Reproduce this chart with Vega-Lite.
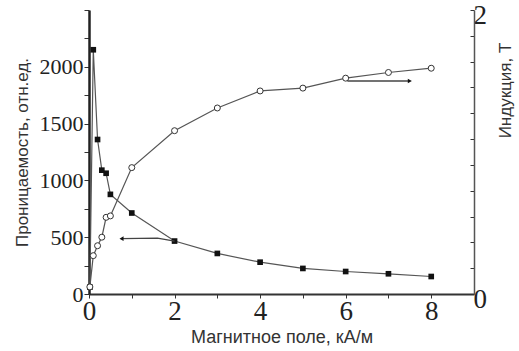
{
  "$schema": "https://vega.github.io/schema/vega-lite/v6.json",
  "width": 385,
  "height": 284,
  "autosize": "none",
  "padding": {"left": 89, "right": 45, "top": 10, "bottom": 57},
  "background": "white",
  "config": {
    "view": {"stroke": null},
    "axis": {"grid": false, "labelFont": "Liberation Serif", "titleFont": "Liberation Sans", "titleFontWeight": "normal", "labelColor": "#222", "titleColor": "#333", "tickColor": "#333", "labelOverlap": false, "labelBound": false, "labelFlush": false}
  },
  "datasets": {
    "perm": [
      {"H": 0.02, "mu": 60},
      {"H": 0.1, "mu": 2150},
      {"H": 0.2, "mu": 1360},
      {"H": 0.3, "mu": 1090},
      {"H": 0.4, "mu": 1063},
      {"H": 0.5, "mu": 877},
      {"H": 1, "mu": 713},
      {"H": 2, "mu": 466},
      {"H": 3, "mu": 357},
      {"H": 4, "mu": 280},
      {"H": 5, "mu": 225},
      {"H": 6, "mu": 198},
      {"H": 7, "mu": 178},
      {"H": 8, "mu": 154}
    ],
    "ind": [
      {"H": 0.02, "B": 0.05},
      {"H": 0.1, "B": 0.27},
      {"H": 0.2, "B": 0.34},
      {"H": 0.3, "B": 0.4},
      {"H": 0.4, "B": 0.54},
      {"H": 0.5, "B": 0.55},
      {"H": 1, "B": 0.89},
      {"H": 2, "B": 1.15},
      {"H": 3, "B": 1.31},
      {"H": 4, "B": 1.43},
      {"H": 5, "B": 1.45},
      {"H": 6, "B": 1.52},
      {"H": 7, "B": 1.56},
      {"H": 8, "B": 1.59}
    ],
    "arrow1": [
      {"H": 2.0, "mu": 466, "head": false},
      {"H": 1.6, "mu": 492, "head": false},
      {"H": 0.76, "mu": 487, "head": true}
    ],
    "arrow2": [
      {"H": 6.04, "B": 1.5, "head": false},
      {"H": 7.5, "B": 1.5, "head": true}
    ]
  },
  "layer": [
    {
      "layer": [
        {
          "data": {"name": "perm"},
          "mark": {"type": "line", "color": "#555", "strokeWidth": 1.2},
          "encoding": {
            "x": {"field": "H", "type": "quantitative", "scale": {"domain": [0, 9], "nice": false},
              "axis": {"title": "Магнитное поле, кА/м", "titleFontSize": 18, "titlePadding": 4, "values": [0,1,2,3,4,5,6,7,8], "tickCount": 30, "format": "d", "labelExpr": "datum.value % 2 == 0 ? datum.label : ''", "labelFont": "Liberation Serif", "labelFontSize": 27, "labelPadding": 0, "labelOverlap": false, "labelBound": false, "labelFlush": false, "tickSize": 4, "domainColor": "#333", "domainWidth": 2}},
            "y": {"field": "mu", "type": "quantitative", "scale": {"domain": [0, 2500], "nice": false},
              "axis": {"title": "Проницаемость, отн.ед.", "titleFontSize": 17, "titlePadding": 8, "values": [0,250,500,750,1000,1250,1500,1750,2000,2250,2500], "tickCount": 30, "format": "d", "labelExpr": "datum.value % 500 == 0 && datum.value < 2500 ? datum.label : ''", "labelFont": "Liberation Serif", "labelFontSize": 22, "labelPadding": 1, "labelOverlap": false, "labelBound": false, "labelFlush": false, "tickSize": 5, "domainColor": "#222", "domainWidth": 2.5}}
          }
        },
        {
          "data": {"name": "perm"},
          "mark": {"type": "point", "shape": "square", "filled": true, "color": "#111", "size": 32, "opacity": 1},
          "encoding": {
            "x": {"field": "H", "type": "quantitative"},
            "y": {"field": "mu", "type": "quantitative"}
          }
        },
        {
          "data": {"name": "arrow1"},
          "mark": {"type": "line", "color": "#444", "strokeWidth": 1.3},
          "encoding": {
            "x": {"field": "H", "type": "quantitative"},
            "y": {"field": "mu", "type": "quantitative"},
            "order": {"field": "H"}
          }
        },
        {
          "data": {"name": "arrow1"},
          "transform": [{"filter": "datum.head"}],
          "mark": {"type": "point", "shape": "triangle-left", "filled": true, "color": "#111", "size": 22, "opacity": 1},
          "encoding": {
            "x": {"field": "H", "type": "quantitative"},
            "y": {"field": "mu", "type": "quantitative"}
          }
        }
      ]
    },
    {
      "layer": [
        {
          "data": {"name": "ind"},
          "mark": {"type": "line", "color": "#555", "strokeWidth": 1.2},
          "encoding": {
            "x": {"field": "H", "type": "quantitative"},
            "y": {"field": "B", "type": "quantitative", "scale": {"domain": [0, 2], "nice": false},
              "axis": {"orient": "right", "title": "Индукция, Т", "titleFontSize": 17, "titleAngle": 270, "titleBaseline": "middle", "titleAlign": "center", "titleX": 31, "titleY": 80, "values": [0, 0.18182, 0.36364, 0.54545, 0.72727, 0.90909, 1.09091, 1.27273, 1.45455, 1.63636, 1.81818, 2], "tickCount": 30, "labelExpr": "datum.value < 0.01 ? '0' : (datum.value > 1.99 ? '2' : '')", "labelFont": "Liberation Serif", "labelFontSize": 27, "labelPadding": 3, "labelOffset": 5, "labelOverlap": false, "labelBound": false, "labelFlush": false, "tickSize": -4, "domainColor": "#555", "domainWidth": 1.5}}
          }
        },
        {
          "data": {"name": "ind"},
          "mark": {"type": "point", "shape": "circle", "filled": false, "fill": "white", "stroke": "#333", "strokeWidth": 1, "size": 36, "opacity": 1},
          "encoding": {
            "x": {"field": "H", "type": "quantitative"},
            "y": {"field": "B", "type": "quantitative"}
          }
        },
        {
          "data": {"name": "arrow2"},
          "mark": {"type": "line", "color": "#444", "strokeWidth": 1.3},
          "encoding": {
            "x": {"field": "H", "type": "quantitative"},
            "y": {"field": "B", "type": "quantitative"}
          }
        },
        {
          "data": {"name": "arrow2"},
          "transform": [{"filter": "datum.head"}],
          "mark": {"type": "point", "shape": "triangle-right", "filled": true, "color": "#111", "size": 22, "opacity": 1},
          "encoding": {
            "x": {"field": "H", "type": "quantitative"},
            "y": {"field": "B", "type": "quantitative"}
          }
        }
      ]
    }
  ],
  "resolve": {"scale": {"y": "independent"}, "axis": {"y": "independent"}}
}
